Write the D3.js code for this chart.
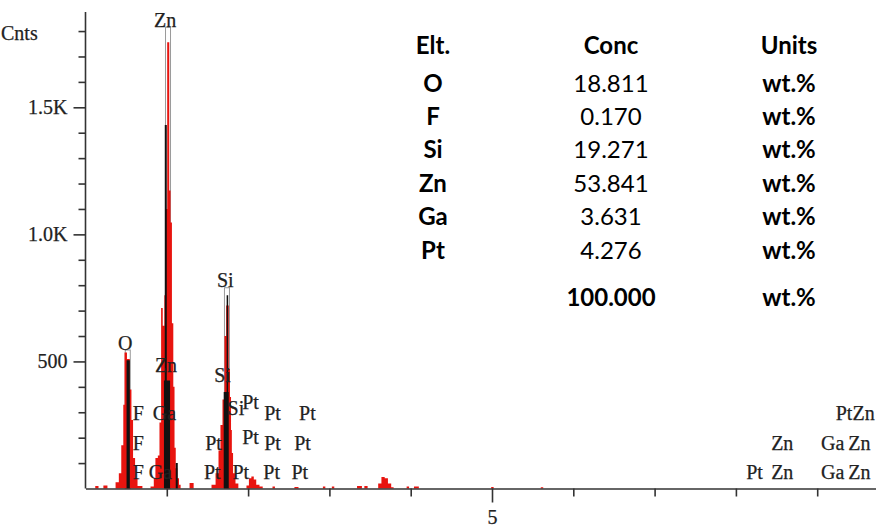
<!DOCTYPE html>
<html>
<head>
<meta charset="utf-8">
<script src="https://cdn.jsdelivr.net/npm/d3@7"></script>
<style>
  html, body { margin: 0; padding: 0; background: #fff; }
  svg { display: block; }
  .lbl { font-family: "Liberation Serif", "DejaVu Serif", serif; font-size: 20px; fill: #222; stroke: #222; stroke-width: 0.25px; }
  .tbl { font-family: Lato, "Open Sans", sans-serif; font-size: 24px; fill: #000; }
</style>
</head>
<body>
<svg id="chart"></svg>
<script>
// spectrum, red (step after: [keV, counts])
const redSpectrum = [
  [0.10, 0], [0.12, 10], [0.16, 0], [0.22, 12], [0.27, 0],
  [0.37, 25], [0.41, 60], [0.44, 170], [0.465, 330], [0.48, 535], [0.51, 510],
  [0.545, 390], [0.565, 270], [0.585, 120], [0.61, 40], [0.64, 10], [0.70, 0],
  [0.80, 8], [0.84, 40], [0.86, 120], [0.89, 130], [0.91, 260], [0.93, 710],
  [0.95, 640], [0.97, 760], [0.99, 1100], [1.005, 1756], [1.03, 1173], [1.046, 1047],
  [1.063, 650], [1.08, 400], [1.095, 160], [1.11, 80], [1.13, 40], [1.15, 15], [1.17, 0],
  [1.28, 22], [1.33, 0],
  [1.55, 15], [1.60, 60], [1.636, 150], [1.66, 250], [1.685, 350], [1.71, 600],
  [1.73, 720], [1.762, 470], [1.777, 360], [1.79, 230], [1.80, 140], [1.815, 60],
  [1.845, 20], [1.88, 0],
  [1.98, 12], [2.01, 40], [2.04, 47], [2.07, 35], [2.10, 15], [2.14, 8], [2.18, 0],
  [2.30, 8], [2.33, 0], [2.57, 6], [2.62, 0],
  [2.92, 8], [2.95, 0], [3.03, 8], [3.06, 0], [3.34, 10], [3.40, 0], [3.43, 10], [3.47, 0],
  [3.60, 20], [3.64, 45], [3.68, 40], [3.72, 20], [3.76, 5], [3.79, 0],
  [3.95, 8], [3.98, 0], [4.04, 8], [4.10, 0], [4.99, 6], [5.02, 0], [5.60, 5], [5.63, 0]
];

// spectrum, black overlay
const blackSpectrum = [
  [0.50, 0], [0.505, 505], [0.545, 0],
  [0.965, 425], [0.975, 1430], [1.0, 425], [1.04, 0],
  [1.11, 100], [1.135, 0],
  [1.70, 380], [1.736, 760], [1.755, 380], [1.762, 0]
];

// peak markers
const markerE = [0.52, 1.015, 1.74];
const markerTop = [545, 1815, 790];

// line labels: text, keV, counts (height of label)
const labelText = ["O", "Zn", "Si", "Zn", "Si", "F", "F", "F", "Ga", "Ga", "Si", "Pt",
  "Pt", "Pt", "Pt", "Pt", "Pt", "Pt", "Pt", "Pt", "Pt", "Pt",
  "Pt", "Zn", "Zn", "Ga", "Zn", "Pt", "Zn", "Ga", "Zn"];
const labelE = [0.49, 0.98, 1.72, 0.99, 1.685, 0.65, 0.65, 0.65, 0.97, 0.92, 1.85, 2.03,
  2.30, 2.73, 1.575, 2.03, 2.30, 2.67, 1.56, 1.91, 2.29, 2.635,
  9.33, 9.57, 8.57, 9.19, 9.52, 8.23, 8.57, 9.19, 9.52];
const labelC = [571, 1843, 819, 484, 445, 295, 177, 63, 295, 63, 315, 339,
  295, 295, 177, 201, 177, 177, 63, 63, 63, 63,
  295, 295, 177, 177, 177, 63, 63, 63, 63];

// axes
const yMajor = [500, 1000, 1500];
const yMajorLabels = ["500", "1.0K", "1.5K"];
const yMinor = [100, 200, 300, 400, 600, 700, 800, 900, 1100, 1200, 1300, 1400, 1600, 1700, 1800];
const xTicks = [1, 2, 3, 4, 6, 7, 8, 9];
const xLabelTicks = [5];

// quant table
const tableHead = ["Elt.", "Conc", "Units"];
const tableElt = ["O", "F", "Si", "Zn", "Ga", "Pt"];
const tableConc = ["18.811", "0.170", "19.271", "53.841", "3.631", "4.276"];
const tableUnits = ["wt.%", "wt.%", "wt.%", "wt.%", "wt.%", "wt.%"];
const tableTotal = "100.000";

const W = 876, H = 528;
const svg = d3.select('#chart').attr('width', W).attr('height', H);

const x = d3.scaleLinear().domain([0, 10]).range([85.5, 898.5]);
const y = d3.scaleLinear().domain([0, 1875]).range([488.5, 12]);

// markers
svg.append('g').selectAll('rect')
  .data(markerE)
  .join('rect')
  .attr('x', d => x(d) - 2.5)
  .attr('width', 5)
  .attr('y', (d, i) => y(markerTop[i]))
  .attr('height', (d, i) => y(0) - y(markerTop[i]))
  .attr('fill', '#fff')
  .attr('stroke', '#9a9a9a')
  .attr('stroke-width', 1);

const area = d3.area()
  .x(d => x(d[0]))
  .y0(y(0))
  .y1(d => y(d[1]))
  .curve(d3.curveStepAfter);

svg.append('path')
  .datum(redSpectrum)
  .attr('d', area)
  .attr('fill', '#e8140f');

svg.append('path')
  .datum(blackSpectrum)
  .attr('d', area)
  .attr('fill', '#111');

// y axis
const yAxisMinor = d3.axisLeft(y).tickValues(yMinor).tickSize(7).tickSizeOuter(0).tickFormat('');
const yAxisMajor = d3.axisLeft(y).tickValues(yMajor).tickSize(12).tickPadding(6)
  .tickFormat((d, i) => yMajorLabels[i]);

const gyMinor = svg.append('g').attr('transform', 'translate(85.5,0)').call(yAxisMinor);
gyMinor.select('.domain').remove();
const gy = svg.append('g').attr('transform', 'translate(85.5,0)').call(yAxisMajor);
gy.select('.domain').attr('d', `M0,${y(0)}V${y(1875)}`);

// x axis
const xAxisMinor = d3.axisBottom(x).tickValues(xTicks).tickSize(8).tickSizeOuter(0).tickFormat('');
const xAxisMajor = d3.axisBottom(x).tickValues(xLabelTicks).tickSize(14).tickPadding(7).tickFormat(d3.format('d'));
const gx = svg.append('g').attr('transform', `translate(0,${y(0)})`).call(xAxisMinor);
const gx2 = svg.append('g').attr('transform', `translate(0,${y(0)})`).call(xAxisMajor);
gx2.select('.domain').remove();

svg.selectAll('.domain, .tick line').attr('stroke', '#333').attr('stroke-width', 1.6);
svg.selectAll('.tick text')
  .attr('class', 'lbl')
  .style('font-family', '"Liberation Serif", serif')
  .style('font-size', '20px')
  .attr('fill', '#333');

svg.append('text')
  .attr('class', 'lbl')
  .attr('x', 1).attr('y', 40)
  .attr('text-anchor', 'start')
  .text('Cnts');

// line labels
svg.append('g').selectAll('text')
  .data(labelText)
  .join('text')
  .attr('class', 'lbl')
  .attr('x', (d, i) => x(labelE[i]))
  .attr('y', (d, i) => y(labelC[i]))
  .attr('dy', '0.33em')
  .attr('text-anchor', 'middle')
  .text(d => d);

// table
const colX = [433, 611, 789];
const rowY = i => 83 + i * 33.4;
const tbl = svg.append('g');
tbl.selectAll('text.head')
  .data(tableHead)
  .join('text')
  .attr('class', 'tbl head')
  .attr('x', (d, i) => colX[i]).attr('y', 45)
  .attr('dy', '0.36em').attr('text-anchor', 'middle')
  .attr('font-weight', 'bold')
  .text(d => d);
tbl.selectAll('text.elt')
  .data(tableElt)
  .join('text')
  .attr('class', 'tbl elt')
  .attr('x', colX[0]).attr('y', (d, i) => rowY(i))
  .attr('dy', '0.36em').attr('text-anchor', 'middle')
  .attr('font-weight', 'bold')
  .text(d => d);
tbl.selectAll('text.conc')
  .data(tableConc)
  .join('text')
  .attr('class', 'tbl conc')
  .attr('x', colX[1]).attr('y', (d, i) => rowY(i))
  .attr('dy', '0.36em').attr('text-anchor', 'middle')
  .text(d => d);
tbl.selectAll('text.unit')
  .data(tableUnits.concat(['wt.%']))
  .join('text')
  .attr('class', 'tbl unit')
  .attr('x', colX[2]).attr('y', (d, i) => i < tableUnits.length ? rowY(i) : 297)
  .attr('dy', '0.36em').attr('text-anchor', 'middle')
  .attr('font-weight', 'bold')
  .text(d => d);
tbl.append('text')
  .attr('class', 'tbl')
  .attr('x', colX[1]).attr('y', 297)
  .attr('dy', '0.36em').attr('text-anchor', 'middle')
  .attr('font-weight', 'bold')
  .text(tableTotal);
</script>
</body>
</html>
